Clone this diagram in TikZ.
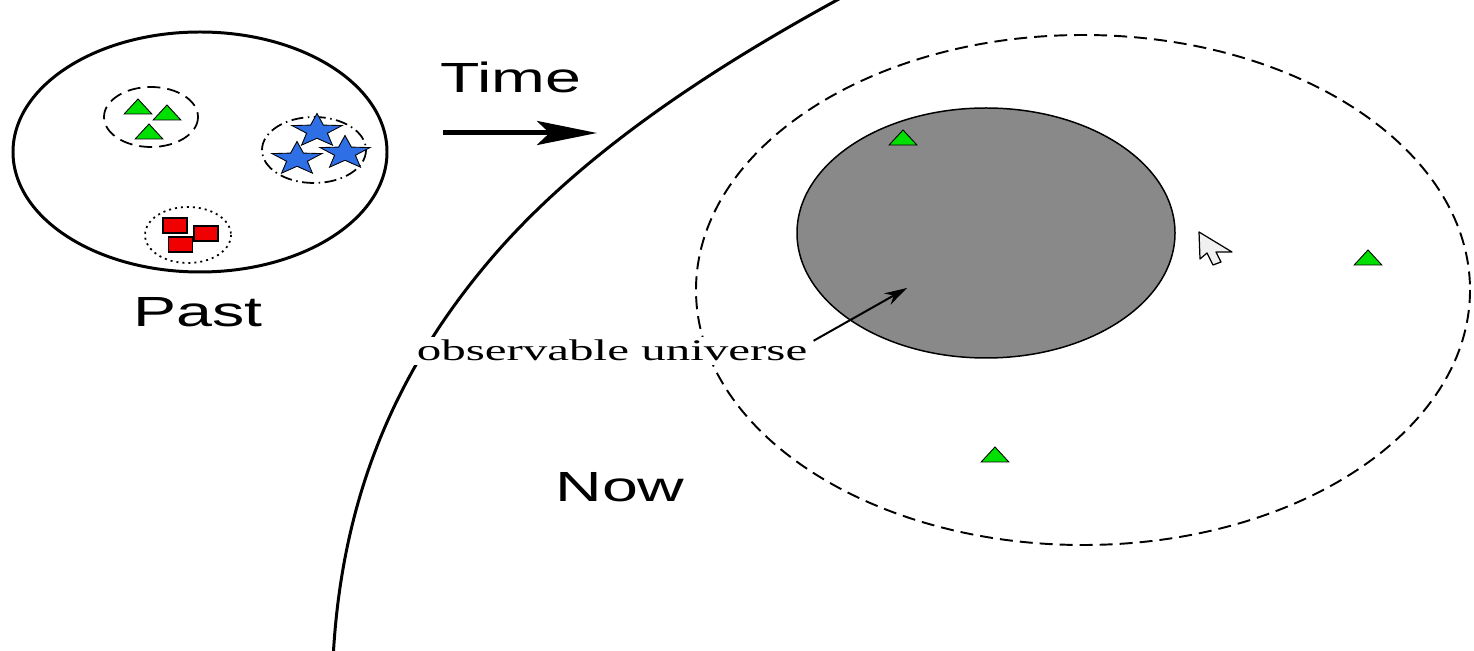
\documentclass[tikz,border=0pt]{standalone}
\usepackage{fontspec}
\newfontfamily\labelfont{Liberation Sans}
\newfontfamily\notefont{Liberation Serif}
\usepackage{tikz}
\usetikzlibrary{arrows.meta,positioning,shapes.geometric}
\definecolor{grain}   {HTML}{00E000}
\definecolor{starblue}{HTML}{2E6FE6}
\definecolor{boxred}  {HTML}{F00000}
\definecolor{horizon} {HTML}{898989}

\begin{document}
\begin{tikzpicture}[x=0.2mm, y=-0.2mm,
   tri/.style={regular polygon, regular polygon sides=3, draw=black, fill=grain,
               inner sep=0pt, minimum size=4mm, xscale=1.6, line width=0.5pt},
   bluestar/.style={star, star points=5, star point ratio=2.4, draw=black, fill=starblue,
               inner sep=0pt, minimum size=7mm, xscale=1.5, line width=0.5pt},
   redbox/.style={rectangle, draw=black, fill=boxred, inner sep=0pt,
               minimum width=4.8mm, minimum height=3mm, line width=0.6pt},
   big/.style={font=\labelfont\fontsize{24}{28}\selectfont, xscale=1.53, anchor=base, inner sep=0pt},
   note/.style={font=\notefont\fontsize{17}{20}\selectfont, xscale=1.64, fill=white, inner sep=2pt},
   timearrow/.style={line width=1mm, -{Stealth[length=12mm, width=4.8mm, inset=2.5mm]}},
   pointer/.style={line width=0.4mm, -{Stealth[length=4.5mm, width=2.6mm]}}
]
\useasboundingbox (0,0) rectangle (1474,651);

% the past: three lumps inside one region
\draw[line width=1.7pt] (200,152) ellipse [x radius=187, y radius=120];
\draw[line width=1pt, dash pattern=on 2.6mm off 1.4mm] (151,117) ellipse [x radius=47, y radius=30];
\draw[line width=1pt, dash pattern=on 2.4mm off 0.9mm on 0.3mm off 0.9mm] (314,150) ellipse [x radius=52, y radius=33];
\draw[line width=1pt, dash pattern=on 0.4mm off 0.8mm] (188,235) ellipse [x radius=43, y radius=28];
\foreach \i/\px/\py in {1/138/109, 2/167/115, 3/149/134}
  \node[tri] (tA\i) at (\px,\py) {};
\foreach \i/\px/\py in {1/317/131, 2/297/159, 3/345/153}
  \node[bluestar] (sB\i) at (\px,\py) {};
\foreach \i/\px/\py in {1/175/225.5, 2/206/233.5, 3/180.5/244.5}
  \node[redbox] (rC\i) at (\px,\py) {};
\node[big] (past) at (198,327) {Past};

% time goes on
\coordinate (tStart) at (443,133);
\coordinate (tEnd) at (597,133);
\draw[timearrow] (tStart) -- (tEnd);
\node[big] (time) at (511,93) {Time};

% the present
\draw[line width=1.7pt] (333,660) .. controls (340.5,510) and (388,380) .. (490,260)
   .. controls (583.5,150) and (720.5,63) .. (850,-7);
\draw[line width=1.1pt, dash pattern=on 2.6mm off 1.4mm] (1083,290) ellipse [x radius=387, y radius=255];
\draw[line width=0.85pt, fill=horizon] (986,233) ellipse [x radius=189, y radius=125];
\foreach \i/\px/\py in {1/903/140, 2/1368/260, 3/995/457}
  \node[tri] (tN\i) at (\px,\py) {};
\node[big] (now) at (620,502) {Now};

\node[note, anchor=base] (obs) at (612,361) {observable universe};
\coordinate (aim) at (907,288);
\draw[pointer] ([yshift=2mm]obs.east) -- (aim);

% mouse pointer
\draw[line width=0.7pt, fill=gray!12, line join=round]
  (1199,232) -- (1200,259) -- (1207,253) -- (1213,265) -- (1221,262)
  -- (1216,252) -- (1232,252) -- cycle;
\end{tikzpicture}
\end{document}
